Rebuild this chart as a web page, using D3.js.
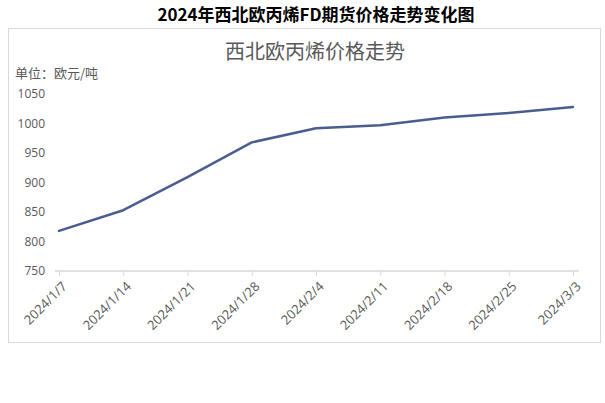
<!DOCTYPE html>
<html><head><meta charset="utf-8">
<script src="https://cdn.jsdelivr.net/npm/d3@7/dist/d3.min.js"></script>
<style>body{margin:0;background:#fff;}svg{display:block;}</style>
</head><body>
<svg id="c" width="605" height="403"></svg>
<script>
const categories = ["2024/1/7","2024/1/14","2024/1/21","2024/1/28","2024/2/4","2024/2/11","2024/2/18","2024/2/25","2024/3/3"];
const prices = [818, 853, 909, 968, 992, 997, 1010, 1018, 1028];
const yTicks = [750, 800, 850, 900, 950, 1000, 1050];
const mainTitle = "2024年西北欧丙烯FD期货价格走势变化图";
const chartTitle = "西北欧丙烯价格走势";
const unitLabel = "单位：欧元/吨";

const svg = d3.select("#c");
const font = "'Noto Sans CJK SC','Noto Sans',sans-serif";
const numFont = "'Open Sans','Noto Sans',sans-serif";

svg.append("text").attr("x", 316).attr("y", 21).attr("text-anchor","middle")
  .attr("font-family", font).attr("font-weight","bold").attr("font-size", 17)
  .attr("fill","#000").text(mainTitle);

svg.append("rect").attr("x", 8.5).attr("y", 28.5).attr("width", 592).attr("height", 314)
  .attr("fill","#fff").attr("stroke","#d9d9d9").attr("stroke-width",1);

svg.append("text").attr("x", 315).attr("y", 59).attr("text-anchor","middle")
  .attr("font-family", font).attr("font-size", 20).attr("fill","#595959").text(chartTitle);

svg.append("text").attr("x", 15).attr("y", 78)
  .attr("font-family", font).attr("font-size", 13).attr("fill","#595959").text(unitLabel);

const x = d3.scalePoint().domain(categories).range([59, 573]);
const y = d3.scaleLinear().domain([750, 1050]).range([271, 94]);

// y labels
const ya = svg.append("g").attr("transform","translate(45,0)")
  .call(d3.axisLeft(y).tickValues(yTicks).tickFormat(d3.format("d")).tickSize(0).tickPadding(0));
ya.select(".domain").remove();
ya.selectAll("text").attr("font-family", numFont).attr("font-size", 12).attr("fill","#595959");

// x axis
const xa = svg.append("g").attr("transform","translate(0,271)")
  .call(d3.axisBottom(x).tickSize(5).tickSizeOuter(0));
xa.select(".domain").attr("stroke","#d9d9d9").attr("stroke-width",1.5)
  .attr("d","M55,0H579");
xa.selectAll(".tick line").attr("stroke","#d9d9d9");
xa.selectAll("text").attr("font-family", numFont).attr("font-size", 13).attr("fill","#595959")
  .attr("text-anchor","end").attr("x", 0).attr("y", 0).attr("dy", "0.35em")
  .attr("transform","translate(5,13) rotate(-45)");

// line
svg.append("path").datum(prices)
  .attr("d", d3.line().x((d,i)=>x(categories[i])).y(d=>y(d)))
  .attr("fill","none").attr("stroke","#4a5d8e").attr("stroke-width",2.5)
  .attr("stroke-linejoin","round").attr("stroke-linecap","round");
</script>
</body></html>
